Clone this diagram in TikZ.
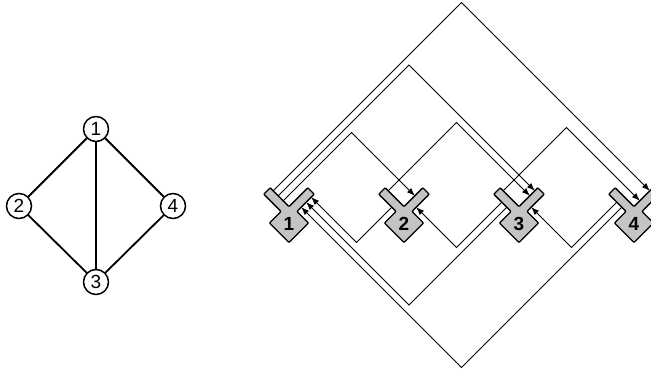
\documentclass[tikz,border=0pt]{standalone}
\usepackage{fontspec}
\setmainfont{Liberation Sans}
\usetikzlibrary{arrows.meta}
\definecolor{SwitchGray}{RGB}{196,196,196}
\tikzset{
  vertex/.style={circle, draw, line width=1.5pt, minimum size=25pt, inner sep=0pt, font=\fontsize{19}{19}\selectfont},
  graphedge/.style={line width=1.8pt},
  wire/.style={line width=0.8pt},
  link/.style={wire, -{Latex[length=8pt,width=6pt]}},
  switchlabel/.style={font=\fontsize{19}{19}\selectfont\bfseries, inner sep=0pt},
  router/.pic={
    \filldraw[fill=SwitchGray, line width=1.4pt, rounded corners=0.8pt]
      (0,-6.4) -- (18.8,-25.2) -- (25.2,-18.8) -- (8,-1.5) -- (19.5,10) -- (0,29.5)
      -- (-19.5,10) -- (-8,-1.5) -- (-25.2,-18.8) -- (-18.8,-25.2) -- cycle;
    \node[switchlabel] (-lbl) at (0,11) {#1};
    % ports on the left arm, upper face (out, going up)
    \coordinate (-outA) at (-15.8,-22.2);
    \coordinate (-outB) at (-10.8,-17.2);
    \coordinate (-outC) at (-5.8,-12.2);
    % ports on the right arm, inner face (in, from above)
    \coordinate (-inA) at (15.8,-22.2);
    \coordinate (-inB) at (10.8,-17.2);
    \coordinate (-inC) at (5.8,-12.2);
    % ports on the left arm, lower face (out, going down)
    \coordinate (-loutB) at (-17.2,-10.8);
    \coordinate (-loutC) at (-12.2,-5.8);
    % ports on the right arm, lower face (in, from below)
    \coordinate (-linA) at (22.2,-15.8);
    \coordinate (-linB) at (17.2,-10.8);
    \coordinate (-linC) at (12.2,-5.8);
  },
}

\begin{document}
\begin{tikzpicture}[x=1pt, y=-1pt]
  \useasboundingbox (0,0) rectangle (651,371);

  % graph
  \node[vertex] (v1) at (96,129) {1};
  \node[vertex] (v2) at (19,206) {2};
  \node[vertex] (v4) at (173,206) {4};
  \node[vertex] (v3) at (96,282) {3};
  \draw[graphedge] (v1) -- (v2);
  \draw[graphedge] (v1) -- (v4);
  \draw[graphedge] (v1) -- (v3);
  \draw[graphedge] (v2) -- (v3);
  \draw[graphedge] (v4) -- (v3);

  % switches
  \pic (s1) at (289,213) {router=1};
  \pic (s2) at (404,213) {router=2};
  \pic (s3) at (519,213) {router=3};
  \pic (s4) at (634,213) {router=4};

  % bends
  \coordinate (pk12) at (351.5,132.5);
  \coordinate (pk13) at (409,65);
  \coordinate (pk14) at (461.5,2.5);
  \coordinate (pk23) at (456.5,122.5);
  \coordinate (pk34) at (566.5,127.5);
  \coordinate (vl21) at (356.5,242.5);
  \coordinate (vl32) at (456.5,247.5);
  \coordinate (vl43) at (571.5,247.5);
  \coordinate (vl31) at (409,305);
  \coordinate (vl41) at (461.5,367.5);

  % links over the top
  \draw[link] (s1-outC) -- (pk12) -- (s2-inB);
  \draw[link] (s1-outB) -- (pk13) -- (s3-inA);
  \draw[link] (s1-outA) -- (pk14) -- (s4-inA);
  \draw[link] (s2-outA) -- (pk23) -- (s3-inB);
  \draw[link] (s3-outA) -- (pk34) -- (s4-inC);
  % links underneath
  \draw[link] (s2-loutC) -- (vl21) -- (s1-linA);
  \draw[link] (s3-loutB) -- (vl32) -- (s2-linC);
  \draw[link] (s4-loutB) -- (vl43) -- (s3-linC);
  \draw[link] (s3-loutC) -- (vl31) -- (s1-linB);
  \draw[link] (s4-loutC) -- (vl41) -- (s1-linC);
\end{tikzpicture}
\end{document}
